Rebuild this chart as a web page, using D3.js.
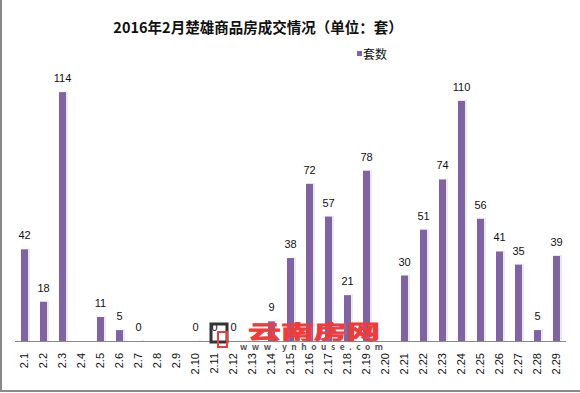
<!DOCTYPE html>
<html>
<head>
<meta charset="utf-8">
<title>2016年2月楚雄商品房成交情况</title>
<script src="https://d3js.org/d3.v7.min.js"></script>
<style>
  body { margin: 0; background: #fff; }
  text { font-family: "Noto Sans CJK SC", "DejaVu Sans", sans-serif; }
  .val { font-family: "Liberation Sans", "DejaVu Sans", sans-serif; font-size: 11px; fill: #111; text-anchor: middle; }
  .tick text { font-family: "Liberation Sans", "DejaVu Sans", sans-serif; font-size: 11px; fill: #111; }
</style>
</head>
<body>
<svg width="580" height="393"></svg>
<script>
// ----- data -----
var days = ["2.1","2.2","2.3","2.4","2.5","2.6","2.7","2.8","2.9","2.10",
            "2.11","2.12","2.13","2.14","2.15","2.16","2.17","2.18","2.19","2.20",
            "2.21","2.22","2.23","2.24","2.25","2.26","2.27","2.28","2.29"];
var sets = [42, 18, 114, null, 11, 5, 0, null, null, 0,
            0, 0, null, 9, 38, 72, 57, 21, 78, null,
            30, 51, 74, 110, 56, 41, 35, 5, 39];
var seriesName = "套数";
var title = "2016年2月楚雄商品房成交情况（单位：套）";

var purple = "#8064a2";

var svg = d3.select("svg");

// frame edges (left + bottom like the screenshot)
svg.append("line").attr("x1", 1).attr("x2", 1).attr("y1", 0).attr("y2", 391)
    .attr("stroke", "#8a8a8a").attr("stroke-width", 2);
svg.append("line").attr("x1", 0).attr("x2", 580).attr("y1", 391).attr("y2", 391)
    .attr("stroke", "#8a8a8a").attr("stroke-width", 2);

var x = d3.scaleBand().domain(days).range([15, 566]);
var y = d3.scaleLinear().domain([0, 120]).range([341, 79]);

var data = days.map(function(d, i) { return {day: d, v: sets[i]}; });
var shown = data.filter(function(d) { return d.v !== null; });

// soft shadow on the right of each bar
svg.selectAll(".shadow").data(shown).enter().append("rect")
    .attr("x", function(d) { return x(d.day) + x.bandwidth() / 2 + 3.5; })
    .attr("y", function(d) { return y(d.v) - 1; })
    .attr("width", 2)
    .attr("height", function(d) { return y(0) - y(d.v) + 1; })
    .attr("fill", "#ece8f1");

svg.selectAll(".bar").data(shown).enter().append("rect")
    .attr("class", "bar")
    .attr("x", function(d) { return x(d.day) + x.bandwidth() / 2 - 3.5; })
    .attr("y", function(d) { return y(d.v); })
    .attr("width", 7)
    .attr("height", function(d) { return y(0) - y(d.v); })
    .attr("fill", purple);

svg.selectAll(".val").data(shown).enter().append("text")
    .attr("class", "val")
    .attr("x", function(d) { return x(d.day) + x.bandwidth() / 2; })
    .attr("y", function(d) { return y(d.v) - 10; })
    .text(function(d) { return d.v; });

// x axis with rotated labels
var xAxis = svg.append("g")
    .attr("transform", "translate(0," + y(0) + ")")
    .call(d3.axisBottom(x).tickSize(0).tickPadding(0));
xAxis.select(".domain").attr("stroke", "#888").attr("d", "M15,0.5H566");
xAxis.selectAll(".tick text")
    .attr("transform", "rotate(-90)")
    .attr("text-anchor", "end")
    .attr("x", -12)
    .attr("y", 0)
    .attr("dy", "0.35em");

// title
svg.append("text")
    .attr("x", 258).attr("y", 33)
    .attr("text-anchor", "middle")
    .attr("font-size", "14.5px")
    .attr("font-weight", "bold")
    .attr("fill", "#111")
    .text(title);

// legend
svg.append("rect").attr("x", 357).attr("y", 51).attr("width", 5).attr("height", 5).attr("fill", purple);
svg.append("text").attr("x", 363).attr("y", 58.5)
    .attr("font-size", "12px").attr("fill", "#111").text(seriesName);

// watermark logo
var wm = svg.append("g");
wm.append("rect").attr("x", 211).attr("y", 324).attr("width", 16).attr("height", 18)
    .attr("fill", "none").attr("stroke", "#333").attr("stroke-width", 3);
wm.append("rect").attr("x", 218).attr("y", 332).attr("width", 9).attr("height", 15)
    .attr("fill", "none").attr("stroke", "#ee3b3b").attr("stroke-width", 2);
wm.append("text").attr("x", 248).attr("y", 339)
    .attr("font-size", "19px").attr("font-weight", "bold")
    .attr("fill", "#ee3c3c").attr("stroke", "#ee3c3c").attr("stroke-width", 0.8)
    .attr("textLength", 132).attr("lengthAdjust", "spacingAndGlyphs")
    .text("云南房网");
wm.append("text").attr("x", 240).attr("y", 349.5)
    .attr("font-family", "DejaVu Sans").attr("font-size", "8.5px").attr("font-weight", "bold")
    .attr("fill", "#555")
    .attr("textLength", 143)
    .text("www.ynhouse.com");
</script>
</body>
</html>
